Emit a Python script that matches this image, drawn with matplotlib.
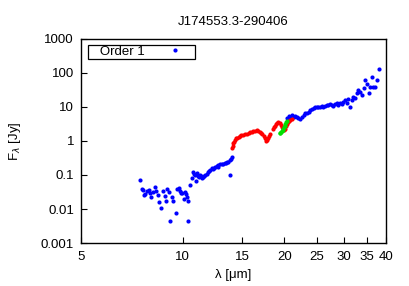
import matplotlib
matplotlib.use("Agg")
import matplotlib.pyplot as plt
from matplotlib.ticker import FixedLocator, NullLocator

plt.rcParams["font.family"] = ["Liberation Sans", "DejaVu Sans"]

# order 1, blue: short wavelength part (7.5 - 14 um)
lam_b1 = [7.49, 7.58, 7.62, 7.70, 7.75, 7.82, 7.93, 8.00, 8.06, 8.15, 8.28, 8.35, 8.48,
          8.52, 8.63, 8.75, 8.85, 8.91, 9.01, 9.11, 9.20, 9.29, 9.39, 9.54, 9.62, 9.73,
          9.84, 9.90, 9.97, 10.06, 10.16, 10.2, 10.3, 10.35, 10.4, 10.5, 10.64, 10.7,
          10.78, 10.85, 10.95, 11.05, 11.1, 11.17, 11.25, 11.32, 11.4, 11.5, 11.58, 11.65,
          11.8, 11.9, 11.98, 12.05, 12.2, 12.3, 12.38, 12.45, 12.6, 12.68, 12.75, 12.9,
          13.05, 13.2, 13.3, 13.4, 13.5, 13.65, 13.8, 13.9, 14.0, 13.8]
f_b1 = [0.069, 0.038, 0.036, 0.026, 0.027, 0.034, 0.036, 0.030, 0.023, 0.031, 0.045, 0.034,
        0.025, 0.016, 0.0106, 0.034, 0.024, 0.017, 0.038, 0.031, 0.0046, 0.023, 0.017,
        0.0079, 0.038, 0.040, 0.034, 0.030, 0.030, 0.020, 0.032, 0.028, 0.022, 0.0046,
        0.017, 0.052, 0.079, 0.118, 0.11, 0.099, 0.066, 0.114, 0.095, 0.086, 0.099, 0.09,
        0.081, 0.088, 0.095, 0.099, 0.11, 0.123, 0.13, 0.14, 0.165, 0.15, 0.16, 0.17, 0.18,
        0.17, 0.19, 0.206, 0.215, 0.206, 0.227, 0.22, 0.24, 0.24, 0.27, 0.30, 0.34, 0.10]

# order 1, blue: long wavelength part (20 - 38 um)
lam_b2 = [20.3, 20.6, 20.8, 21.0, 21.3, 21.5, 21.8, 22.0, 22.3, 22.5, 22.8, 23.0, 23.3,
          23.6, 23.8, 24.1, 24.4, 24.6, 24.9, 25.2, 25.5, 25.8, 26.1, 26.4, 26.7, 27.0,
          27.3, 27.6, 27.9, 28.3, 28.6, 28.9, 29.2, 29.6, 29.9, 30.2, 30.6, 30.9, 31.3,
          31.7, 32.0, 32.4, 32.8, 33.1, 33.5, 33.9, 34.3, 34.7, 35.1, 35.5, 35.9, 36.3,
          36.7, 37.1, 37.5, 38.0]
f_b2 = [4.55, 5.3, 4.87, 5.7, 5.1, 5.3, 4.87, 4.55, 4.25, 5.1, 5.7, 6.4, 6.65, 7.1, 8.0,
        8.4, 8.9, 9.6, 9.6, 10.0, 9.6, 10.45, 10.0, 10.45, 11.2, 10.9, 12.0, 11.2, 10.45,
        12.0, 12.5, 11.2, 13.1, 12.0, 14.0, 15.7, 13.1, 16.4, 10.0, 15.7, 19.6, 17.6,
        24.7, 30.9, 27.5, 22.0, 34.6, 60.0, 48.0, 24.7, 38.5, 75.0, 37.0, 38.5, 60.0, 125.0]

# red segments
lam_r = [14.0, 14.05, 14.1, 14.2, 14.3, 14.4, 14.5, 14.65, 14.8, 14.9, 15.1, 15.3, 15.5,
         15.7, 15.85, 16.0, 16.2, 16.4, 16.6, 16.75, 16.9, 17.05, 17.2, 17.35, 17.5, 17.6,
         17.7, 17.8, 17.9, 18.0, 18.1,
         18.55, 18.65, 18.75, 18.9, 19.05, 19.2, 19.35, 19.5, 19.65, 19.8, 19.95, 20.1,
         20.25, 20.4, 20.55, 20.7, 20.85, 21.0]
f_r = [0.62, 0.7, 0.84, 0.95, 1.05, 1.18, 1.25, 1.33, 1.4, 1.47, 1.52, 1.55, 1.64, 1.72,
       1.8, 1.88, 1.92, 1.97, 2.02, 1.97, 1.85, 1.7, 1.55, 1.4, 1.22, 1.1, 1.02, 1.05, 1.2,
       1.38, 1.55,
       2.2, 2.5, 2.8, 3.1, 3.4, 3.5, 3.3, 2.9, 2.5, 2.2, 2.1, 2.3, 2.7, 3.1, 3.5, 3.8, 4.1, 4.3]

# green segment
lam_g = [19.35, 19.45, 19.55, 19.65, 19.75, 19.85, 19.95, 20.05, 20.15, 20.25, 20.35]
f_g = [1.65, 1.7, 1.8, 1.95, 2.1, 2.3, 2.55, 2.8, 3.1, 3.5, 3.9]

xticks = [5, 10, 15, 20, 25, 30, 35, 40]
yticks = [0.001, 0.01, 0.1, 1, 10, 100, 1000]
ytick_labels = ["0.001", "0.01", "0.1", "1", "10", "100", "1000"]

fig = plt.figure(figsize=(4.09, 2.86), dpi=100)
ax = fig.add_axes([0.198, 0.150, 0.746, 0.715])

ms = 3.0
ax.plot(lam_b1 + lam_b2, f_b1 + f_b2, "o", color="#0000ff", ms=ms, mew=0, label="   Order 1")
ax.plot(lam_r, f_r, "o", color="#ff0000", ms=ms, mew=0)
ax.plot(lam_g, f_g, "o", color="#00e000", ms=ms, mew=0)

ax.set_xscale("log")
ax.set_yscale("log")
ax.set_xlim(5, 40)
ax.set_ylim(0.001, 1000)
ax.xaxis.set_major_locator(FixedLocator(xticks))
ax.xaxis.set_minor_locator(NullLocator())
ax.set_xticklabels([str(t) for t in xticks])
ax.yaxis.set_major_locator(FixedLocator(yticks))
ax.yaxis.set_minor_locator(NullLocator())
ax.set_yticklabels(ytick_labels)
ax.tick_params(axis="both", direction="in", length=4, width=0.8, labelsize=9.5, pad=5)
ax.tick_params(axis="x", pad=6)
for s in ax.spines.values():
    s.set_linewidth(1.0)

ax.set_title("J174553.3-290406", fontsize=9.5, pad=10)
ax.set_xlabel("λ [μm]", fontsize=9.5, labelpad=4)
ax.set_ylabel("F$_\\lambda$ [Jy]", fontsize=9.5, labelpad=13)

leg = ax.legend(loc="upper left", bbox_to_anchor=(0.023, 0.968), borderaxespad=0,
                markerfirst=False, fontsize=9.5, handlelength=3.0, handletextpad=0.8,
                borderpad=0.05, fancybox=False, framealpha=1, numpoints=1)
leg.get_frame().set_edgecolor("black")
leg.get_frame().set_linewidth(0.9)

fig.savefig("out.png", dpi=100)
